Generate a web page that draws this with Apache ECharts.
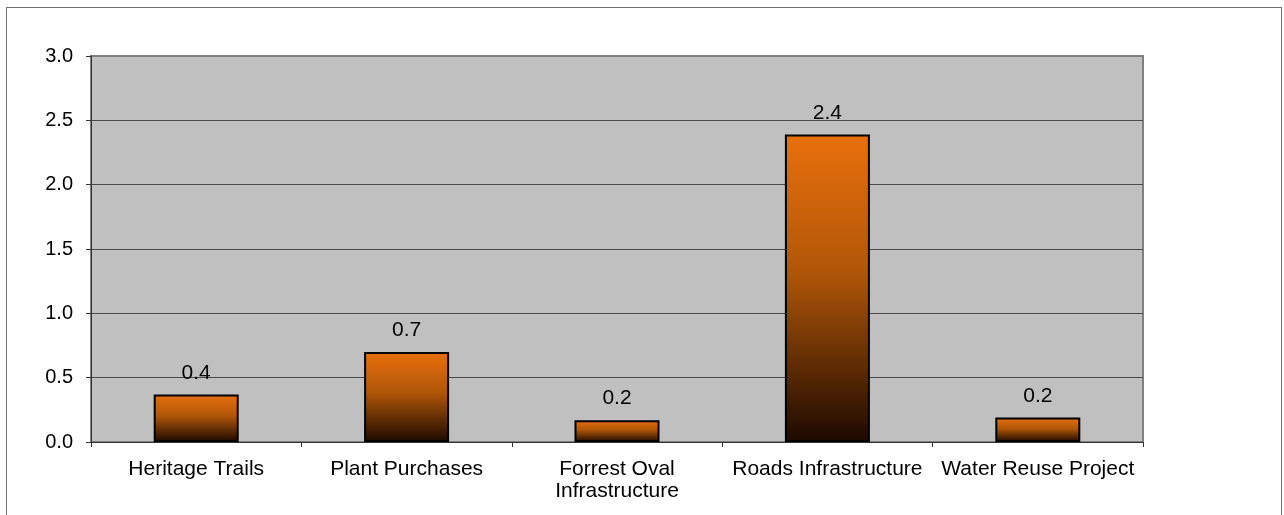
<!DOCTYPE html>
<html>
<head>
<meta charset="utf-8">
<script src="https://cdn.jsdelivr.net/npm/echarts@6/dist/echarts.min.js"></script>
<style>
  html, body { margin: 0; padding: 0; background: #fff; }
  #frame { position: absolute; left: 6px; top: 7px; width: 1276px; height: 520px; border: 1px solid #707070; box-sizing: border-box; }
  #main { position: absolute; left: 0; top: 0; width: 1284px; height: 515px; }
</style>
</head>
<body>
<div id="frame"></div>
<div id="main"></div>
<script>
// projects and spend values
let categories = ['Heritage Trails', 'Plant Purchases', 'Forrest Oval\nInfrastructure', 'Roads Infrastructure', 'Water Reuse Project'];
let values = [0.37, 0.70, 0.17, 2.39, 0.19];
let yTicks = [0, 0.5, 1.0, 1.5, 2.0, 2.5, 3.0];

let font = '"Liberation Sans", Arial, sans-serif';
let myChart = echarts.init(document.getElementById('main'));

let option = {
  backgroundColor: 'transparent',
  animation: false,
  grid: {
    left: 91,
    top: 56,
    right: 141,
    bottom: 73,
    show: true,
    backgroundColor: '#c0c0c0',
    borderColor: '#808080',
    borderWidth: 2
  },
  xAxis: {
    type: 'category',
    data: categories,
    axisLine: { lineStyle: { color: '#333', width: 1 } },
    axisTick: { show: true, length: 5, lineStyle: { color: '#333' } },
    axisLabel: {
      color: '#000',
      fontFamily: font,
      fontSize: 21,
      margin: 16,
      lineHeight: 22,
      interval: 0
    }
  },
  yAxis: {
    type: 'value',
    min: yTicks[0],
    max: yTicks[yTicks.length - 1],
    interval: 0.5,
    axisLine: { show: true, lineStyle: { color: '#333', width: 1 } },
    axisTick: { show: true, length: 5, lineStyle: { color: '#333' } },
    axisLabel: {
      color: '#000',
      fontFamily: font,
      fontSize: 20,
      margin: 18,
      formatter: function (v) { return v.toFixed(1); }
    },
    splitLine: {
      show: true,
      lineStyle: { color: ['#333', '#4a4a4a', '#4a4a4a', '#4a4a4a', '#4a4a4a', '#4a4a4a', '#808080'], width: 1 }
    }
  },
  series: [
    {
      type: 'bar',
      data: values,
      barWidth: 85,
      itemStyle: {
        color: new echarts.graphic.LinearGradient(0, 0, 0, 1, [
          { offset: 0, color: '#e9700c' },
          { offset: 0.45, color: '#b05608' },
          { offset: 1, color: '#1c0900' }
        ]),
        borderColor: '#000',
        borderWidth: 2
      },
      label: {
        show: true,
        position: 'top',
        distance: 11,
        color: '#000',
        fontFamily: font,
        fontSize: 21,
        formatter: function (p) { return p.value.toFixed(1); }
      }
    }
  ]
};
myChart.setOption(option);
</script>
</body>
</html>
